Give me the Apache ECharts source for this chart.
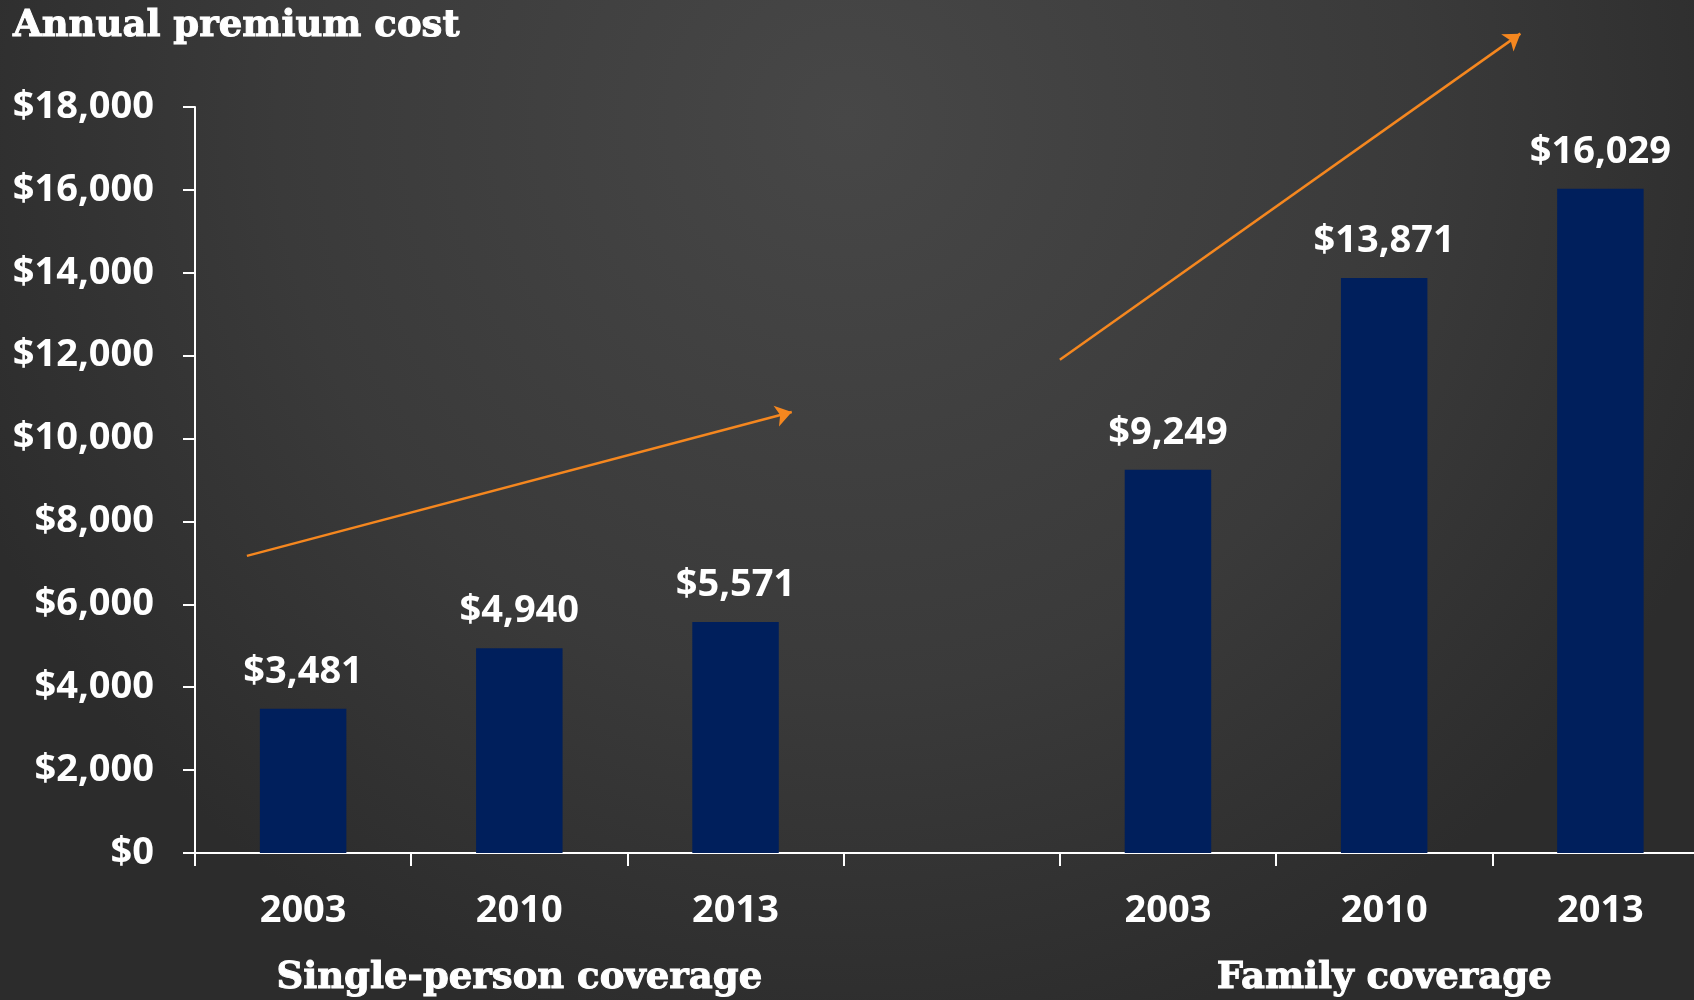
<!DOCTYPE html>
<html>
<head>
<meta charset="utf-8">
<script src="https://cdn.jsdelivr.net/npm/echarts@6/dist/echarts.min.js"></script>
<style>
  html, body { margin: 0; padding: 0; background: #333; }
  #chart { width: 1694px; height: 1000px; }
</style>
</head>
<body>
<div id="chart"></div>
<script>
// Annual premium cost, single-person vs family coverage
const years = ['2003', '2010', '2013', '', '2003', '2010', '2013'];
const groupLabels = ['', 'Single-person coverage', '', '', '', 'Family coverage', ''];
const singleCoverage = [3481, 4940, 5571];
const familyCoverage = [9249, 13871, 16029];
const yMin = 0, yMax = 18000, yStep = 2000;

// Trend arrows: [category position, premium value]
const singleTrend = [[-0.26, 7170], [2.26, 10640]];
const familyTrend = [[3.5, 11900], [5.63, 19770]];

const premiums = [...singleCoverage, '-', ...familyCoverage];
const money = v => '$' + Number(v).toLocaleString('en-US');

const labelFont = { color: '#ffffff', fontFamily: 'Open Sans', fontWeight: 'bold' };
// heavy slab-serif look for the title and group names
const slabFont = {
  color: '#ffffff', fontFamily: 'DejaVu Serif', fontWeight: 'bold',
  textBorderColor: '#ffffff', textBorderWidth: 1
};

const chart = echarts.init(document.getElementById('chart'));
chart.setOption({
  backgroundColor: {
    type: 'radial', x: 0.5, y: 0.12, r: 0.95,
    colorStops: [
      { offset: 0, color: '#474747' },
      { offset: 0.6, color: '#3a3a3a' },
      { offset: 1, color: '#2c2c2c' }
    ]
  },
  animation: false,
  title: {
    text: 'Annual premium cost',
    left: 8, top: 3,
    textStyle: Object.assign({ fontSize: 37 }, slabFont)
  },
  // the last category runs slightly past the right edge of the canvas
  grid: { left: 195, width: 1513.5, top: 107, bottom: 147, containLabel: false, outerBoundsMode: 'none' },
  xAxis: [
    {
      type: 'category', data: years, position: 'bottom',
      axisLine: { lineStyle: { color: '#ffffff', width: 2 } },
      axisTick: { show: true, length: 13, lineStyle: { color: '#ffffff', width: 2 } },
      axisLabel: Object.assign({ fontSize: 38, margin: 39, interval: 0 }, labelFont)
    },
    {
      type: 'category', data: groupLabels, position: 'bottom',
      axisLine: { show: false }, axisTick: { show: false },
      axisLabel: Object.assign({ fontSize: 37, margin: 107, interval: 0 }, slabFont)
    },
    { type: 'value', min: -0.5, max: 6.5, show: false }
  ],
  yAxis: {
    type: 'value', min: yMin, max: yMax, interval: yStep,
    splitLine: { show: false },
    axisLine: { show: true, onZero: false, lineStyle: { color: '#ffffff', width: 2 } },
    axisTick: { show: true, length: 12, lineStyle: { color: '#ffffff', width: 2 } },
    axisLabel: Object.assign({ fontSize: 38, margin: 41, padding: [12, 0, 0, 0], formatter: money }, labelFont)
  },
  series: [
    {
      type: 'bar', xAxisIndex: 0, data: premiums, barWidth: '40%',
      itemStyle: { color: '#001f5c' },
      label: Object.assign({ show: true, position: 'top', distance: 18, fontSize: 38, formatter: p => money(p.value) }, labelFont)
    },
    {
      type: 'lines', coordinateSystem: 'cartesian2d', xAxisIndex: 2, yAxisIndex: 0,
      clip: false, silent: true,
      symbol: ['none', 'arrow'], symbolSize: [0, 16],
      lineStyle: { color: '#f5871f', width: 2.5, opacity: 1 },
      data: [ { coords: singleTrend }, { coords: familyTrend } ]
    }
  ]
});
</script>
</body>
</html>
